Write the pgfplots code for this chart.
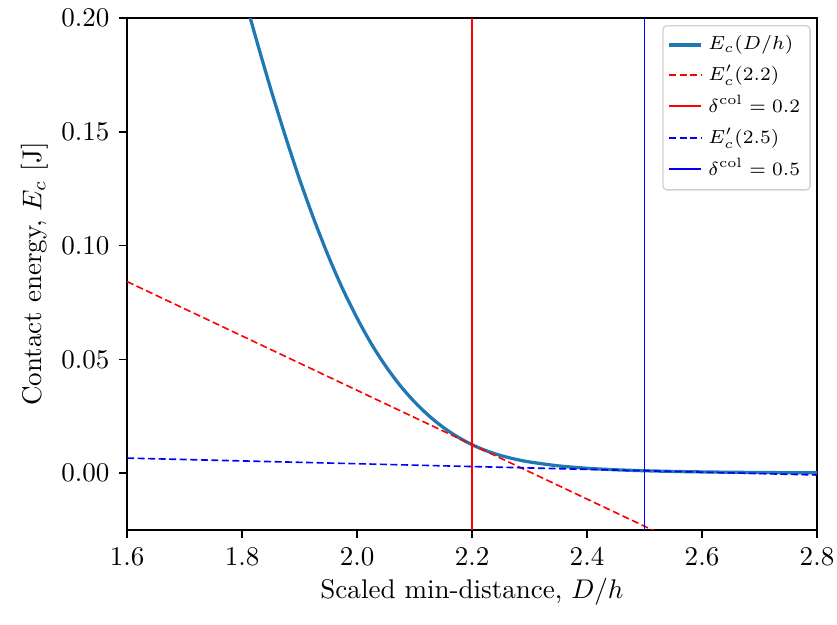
\documentclass[border=0pt]{standalone}
\usepackage{pgfplots}
\pgfplotsset{compat=1.18}
\definecolor{mplblue}{HTML}{1F77B4}
\definecolor{pureblue}{rgb}{0,0,1}
\definecolor{purered}{rgb}{1,0,0}
\definecolor{legframe}{gray}{0.82}
\begin{document}
\begin{tikzpicture}
\begin{axis}[
  scale only axis,
  width=255.3pt, height=189.4pt,
  xmin=1.6, xmax=2.8, ymin=-0.025, ymax=0.2,
  xtick={1.6,1.8,2.0,2.2,2.4,2.6,2.8},
  ytick={0,0.05,0.1,0.15,0.2},
  xticklabel style={/pgf/number format/.cd,fixed,fixed zerofill,precision=1},
  yticklabel style={/pgf/number format/.cd,fixed,fixed zerofill,precision=2},
  scaled y ticks=false,
  tick pos=left, tick align=outside,
  major tick length=3pt,
  axis line style={line width=0.7pt},
  every tick/.style={black, line width=0.6pt},
  xlabel={Scaled min-distance, $D/h$},
  ylabel={Contact energy, $E_c$ [J]},
  xlabel style={yshift=2pt},
  ylabel style={yshift=-2pt},
  legend style={name=leg, at={(0.99,0.985)}, anchor=north east, font=\scriptsize,
    draw=none, fill=white, row sep=0pt, inner sep=1.5pt},
  legend image code/.code={\draw[#1] (0cm,0cm) -- (0.42cm,0cm);},
  legend cell align=left,
  clip=true,
]
\addlegendimage{color=mplblue, line width=1.2pt}
\addlegendentry{$E_c(D/h)$}
\addlegendimage{color=purered, line width=0.8pt, dash pattern=on 2.6pt off 1.3pt}
\addlegendentry{$E_c'(2.2)$}
\addlegendimage{color=purered, line width=0.85pt}
\addlegendentry{$\delta^{\mathrm{col}}=0.2$}
\addlegendimage{color=pureblue, line width=0.8pt, dash pattern=on 2.6pt off 1.3pt}
\addlegendentry{$E_c'(2.5)$}
\addlegendimage{color=pureblue, line width=0.85pt}
\addlegendentry{$\delta^{\mathrm{col}}=0.5$}
\addplot[draw=mplblue, line width=1.2pt, smooth, forget plot] coordinates {
(1.800,0.2130) (1.825,0.1905) (1.850,0.1688) (1.875,0.1484) (1.900,0.1292)
(1.925,0.1116) (1.950,0.0955) (1.975,0.0810) (2.000,0.0682) (2.025,0.0568)
(2.050,0.0470) (2.075,0.0385) (2.100,0.0313) (2.125,0.0252) (2.150,0.0201)
(2.175,0.0159) (2.200,0.0125) (2.225,0.0098) (2.250,0.00773) (2.275,0.00614)
(2.300,0.00491) (2.350,0.00320) (2.400,0.00214) (2.450,0.00147) (2.500,0.00104)
(2.550,0.00074) (2.600,0.00053) (2.650,0.00038) (2.700,0.00027) (2.750,0.00019)
(2.800,0.00014)
};
\addplot[draw=purered, line width=0.6pt, dash pattern=on 2.6pt off 1.3pt, forget plot] coordinates {(1.6,0.0842) (2.8,-0.0592)};
\addplot[draw=purered, line width=0.65pt, forget plot] coordinates {(2.2,-0.03) (2.2,0.25)};
\addplot[draw=pureblue, line width=0.6pt, dash pattern=on 2.6pt off 1.3pt, forget plot] coordinates {(1.6,0.0066) (2.8,-0.00082)};
\addplot[draw=pureblue, line width=0.65pt, forget plot] coordinates {(2.5,-0.03) (2.5,0.25)};
\end{axis}
\draw[legframe, line width=0.5pt, rounded corners=1.5pt] (leg.south west) rectangle (leg.north east);
\pgfresetboundingbox
\path ([shift={(-47pt,-34.8pt)}]current axis.south west) rectangle ([shift={(7.4pt,6.7pt)}]current axis.north east);
\end{tikzpicture}
\end{document}
